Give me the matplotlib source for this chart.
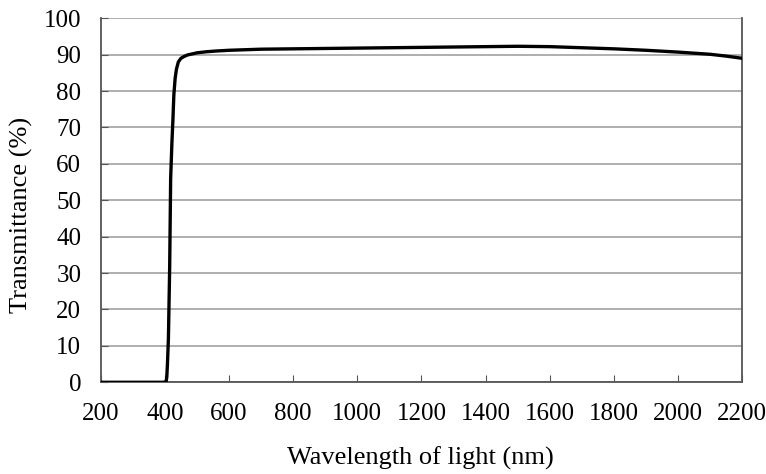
import numpy as np
import matplotlib.pyplot as plt

plt.rcParams['font.family'] = ['Liberation Serif', 'DejaVu Serif']

# Transmittance curve
wavelength = [200, 300, 400, 404, 406, 408, 411, 415, 418, 422, 425, 428, 432,
              436, 442, 450, 460, 470, 485, 500, 530, 560, 600, 700, 800, 900,
              1000, 1100, 1200, 1300, 1400, 1500, 1600, 1700, 1800, 1900,
              2000, 2050, 2100, 2150, 2200]
transmittance = [0, 0, 0, 0.2, 1.5, 5, 12, 32, 56, 66, 72, 79, 83.5,
                 86, 88, 89, 89.5, 89.9, 90.2, 90.5, 90.8, 91.0, 91.2, 91.5, 91.6, 91.7,
                 91.8, 91.9, 92.0, 92.1, 92.2, 92.3, 92.2, 91.9, 91.6, 91.2,
                 90.7, 90.4, 90.1, 89.6, 89.0]

xticks = np.arange(200, 2201, 200)
yticks = np.arange(0, 101, 10)

fig = plt.figure(figsize=(7.66, 4.74), dpi=100)
ax = fig.add_axes([0.1315, 0.1935, 0.8375, 0.768])

ax.plot(wavelength, transmittance, color='black', lw=2.4, solid_joinstyle='round', zorder=3)

ax.set_xlim(200, 2200)
ax.set_ylim(0, 100)
ax.set_xticks(xticks)
ax.set_yticks(yticks)
ax.grid(axis='y', color='#999999', lw=1.1)
ax.set_axisbelow(True)

ax.spines['top'].set_visible(False)
for s in ['left', 'bottom', 'right']:
    ax.spines[s].set_color('#555555')
    ax.spines[s].set_linewidth(1.3)

ax.tick_params(axis='x', direction='in', length=5, color='#555555', pad=15, labelsize=18)
ax.tick_params(axis='y', direction='in', length=5, color='#555555', pad=14, labelsize=18)

ax.set_xlabel('Wavelength of light (nm)', fontsize=19)
ax.set_ylabel('Transmittance (%)', fontsize=19)
ax.xaxis.set_label_coords(0.499, -0.178)
ax.yaxis.set_label_coords(-0.106, 0.46)

fig.savefig('out.png', dpi=100)
